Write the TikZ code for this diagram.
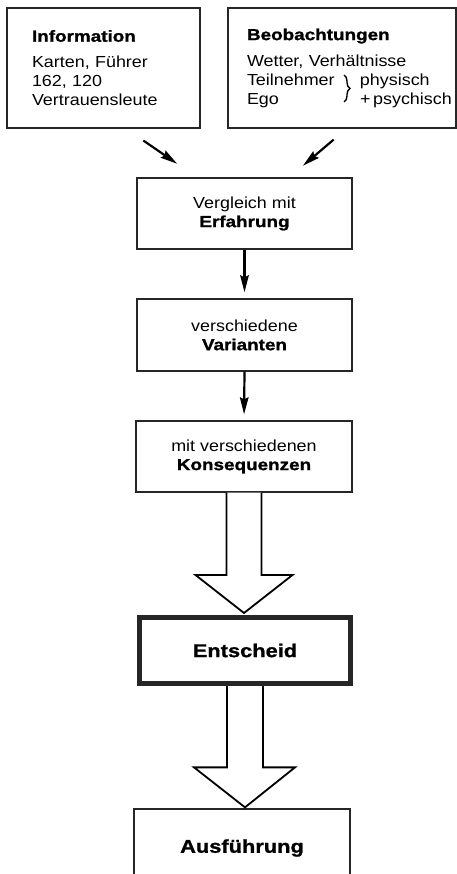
\documentclass[tikz,border=0pt]{standalone}
\usepackage{fontspec}
\setmainfont[FakeStretch=1.12, BoldFeatures={FakeStretch=1.18, FakeBold=1.2}]{Liberation Sans}
\usetikzlibrary{calc,arrows.meta,decorations.pathreplacing}
\begin{document}
\begin{tikzpicture}[x=1pt,y=-1pt,
  box/.style={draw=black!85, line width=1.3pt, inner sep=0pt, align=center,
    font=\fontsize{16}{19}\selectfont},
  topbox/.style={box, align=left, minimum height=120pt, inner xsep=0pt},
  bigbox/.style={box, font=\fontsize{18.5}{22}\selectfont\bfseries},
  arr/.style={line width=2.2pt, -{Stealth[length=17pt,width=8.5pt,inset=2pt]}},
  block/.style={draw, line width=1.8pt, line join=miter, fill=white}]
\useasboundingbox (0,0) rectangle (457,874);
\clip (0,0) rectangle (457,874);

\node[topbox, minimum width=193pt, text width=143pt] (info) at (103.5,68)
  {\textbf{Information}\\[7pt]Karten, Führer\\162, 120\\Vertrauensleute};
\node[topbox, minimum width=228pt, text width=190pt] (beob) at (342,68)
  {\textbf{Beobachtungen}\\[7pt]Wetter, Verhältnisse\\
   \makebox[113pt][l]{Teilnehmer}physisch\\
   \makebox[113pt][l]{Ego}+\,psychisch};
\draw[decorate, decoration={brace, amplitude=6pt}, line width=1.4pt]
  (344,75) -- (344,102);

\node[box, minimum width=215pt, minimum height=71pt] (verg) at (244.5,213.5)
  {Vergleich mit\\\textbf{Erfahrung}};
\node[box, minimum width=215pt, minimum height=72pt] (vari) at (244.5,335)
  {verschiedene\\\textbf{Varianten}};
\node[box, minimum width=216pt, minimum height=71pt] (kons) at (244,456.5)
  {mit verschiedenen\\\textbf{Konsequenzen}};
\node[bigbox, line width=5pt, minimum width=211pt, minimum height=66pt] (ent) at (245,650.5)
  {Entscheid};
\node[bigbox, minimum width=216pt, minimum height=78pt] (aus) at (242,848)
  {Ausführung};

\draw[arr, shorten <=21pt, shorten >=24pt]
  ($(info.south)+(22.5,0)$) -- ($(verg.north)+(-47.5,0)$);
\draw[arr, shorten <=17pt, shorten >=18pt]
  ($(beob.south)+(4.6,0)$) -- ($(verg.north)+(44.7,0)$);
\draw[arr, shorten >=6pt] (verg.south) -- (vari.north);
\draw[arr, shorten >=6pt] (vari.south) -- (kons.north);

\draw[block] let \p1=(kons.south), \p2=(ent.north) in
  (\x1-17.5pt,\y1) -- (\x1-17.5pt,\y2+40pt) -- (\x1-48.5pt,\y2+40pt)
  -- (\x1,\y2+2pt) -- (\x1+48.5pt,\y2+40pt) -- (\x1+17.5pt,\y2+40pt) -- (\x1+17.5pt,\y1);
\draw[block] let \p1=(ent.south), \p2=(aus.north) in
  (\x1-18pt,\y1) -- (\x1-18pt,\y2+41pt) -- (\x1-51pt,\y2+41pt)
  -- (\x1,\y2+1pt) -- (\x1+50pt,\y2+41pt) -- (\x1+18pt,\y2+41pt) -- (\x1+18pt,\y1);
\end{tikzpicture}
\end{document}
